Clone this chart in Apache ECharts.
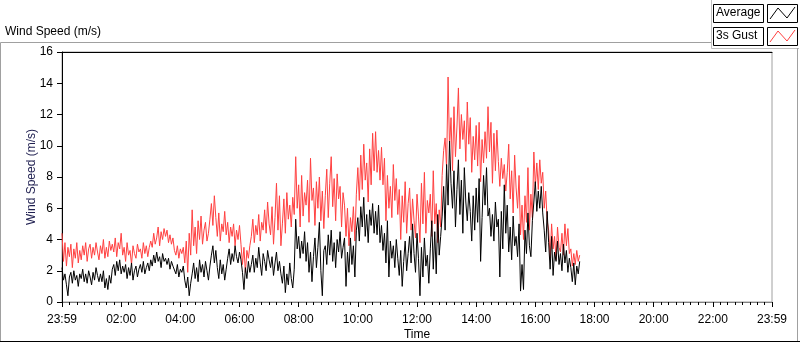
<!DOCTYPE html>
<html>
<head>
<meta charset="utf-8">
<script src="https://cdn.jsdelivr.net/npm/echarts@6/dist/echarts.min.js"></script>
<style>
  html, body { margin: 0; padding: 0; background: #fff; }
  #main { width: 800px; height: 342px; }
</style>
</head>
<body>
<div id="main"></div>
<script>
// one sample every 3 minutes, starting at 23:59
var stepMinutes = 3;

var timeLabels = ['23:59', '02:00', '04:00', '06:00', '08:00', '10:00', '12:00',
  '14:00', '16:00', '18:00', '20:00', '22:00', '23:59'];

var seriesNames = ['Average', '3s Gust'];

var average = [
  2.2, 1.4, 1.8, 1.1, 0.4, 1.6,
  1.9, 1.2, 2.0, 1.4, 1.7, 1.0, 1.8,
  1.5, 2.1, 1.3, 1.8, 1.2, 2.0, 1.6, 1.1, 1.9, 1.4, 2.2, 1.7, 1.3,
  1.8, 1.3, 2.0, 0.9, 1.5, 0.8, 1.7, 1.2, 2.1,
  2.4, 1.7, 2.6, 2.0, 2.7, 1.8, 2.3,
  1.9, 2.4, 1.5, 2.2, 1.7, 2.5, 1.4, 2.0, 2.3, 1.6, 2.1,
  2.4, 1.9, 2.6, 1.8, 2.2, 2.5, 2.0,
  2.7, 2.3, 3.0, 2.5, 3.2, 2.6, 2.9, 2.2, 3.1, 2.6, 2.8,
  2.4, 2.8, 2.1, 2.6, 2.3,
  2.2, 1.8, 2.4, 1.6, 2.1, 1.9, 2.3,
  1.4, 0.9, 1.6, 0.4, 1.2,
  1.8, 2.5, 1.5, 2.2, 1.3, 2.7, 1.9, 2.4, 1.6, 2.6, 2.0, 1.4, 2.3,
  3.0, 3.6, 2.5, 3.3,
  2.2, 1.5, 2.7, 1.8, 2.4, 1.4, 2.1,
  2.8, 3.4, 2.4, 3.1, 2.6, 3.6, 2.9, 2.5, 3.2, 2.7,
  1.9, 0.8, 2.2, 1.5, 2.6, 1.9,
  2.4, 3.0, 1.9, 2.8, 2.2, 3.5, 2.5, 1.7, 3.1, 2.6, 2.0, 3.3, 2.7,
  2.2, 2.9, 1.7, 2.5, 3.2, 2.0, 2.6, 1.8,
  1.2, 2.3, 0.6, 1.8, 1.1, 2.5, 1.5, 0.9, 2.1,
  5.3, 3.4, 4.2, 2.8, 3.9, 3.1, 4.5,
  2.6, 3.8, 1.9, 3.2, 1.3, 2.9, 4.1, 2.2, 3.5,
  5.1, 2.0, 0.4, 3.3,
  3.6, 2.4, 4.3, 3.0, 4.6, 2.6, 3.8, 2.2, 4.0, 3.2, 4.5, 2.8, 3.5, 4.1,
  1.0, 3.2, 1.9, 4.1, 2.4, 3.6, 1.6,
  4.6, 5.4, 3.9, 6.1, 4.8, 6.7, 4.2, 5.6, 3.8, 5.9, 4.9, 6.3, 4.4,
  5.8, 4.3, 6.2,
  3.8, 4.9, 3.3, 4.4,
  2.5, 5.2, 1.6, 3.9, 2.8,
  3.6, 2.2, 4.0, 2.8, 1.7, 3.3, 1.0, 2.6, 3.9, 2.0, 3.1,
  4.2, 2.5, 5.0, 3.1, 1.9, 4.4, 2.8,
  0.4, 3.5, 1.6, 4.1, 2.3, 3.0, 1.2,
  3.4, 5.2, 2.1, 4.5, 1.8, 5.6, 3.0, 4.2,
  5.5, 7.4, 4.6, 8.8, 6.2, 10.3, 7.6,
  6.0, 8.4, 4.8, 7.2, 9.1, 5.6, 7.8, 4.4, 8.6, 6.4, 5.2, 7.0,
  5.8, 3.9, 6.8, 4.6, 7.3, 5.1,
  7.9, 2.6, 5.4,
  8.1, 6.2, 8.6, 5.5,
  6.0, 4.2, 5.6, 3.9, 6.4, 4.8, 5.3,
  1.6, 5.8, 3.4, 7.5, 4.4, 6.2, 3.2,
  4.8, 2.7, 5.5, 3.6, 4.2, 2.9, 5.0,
  0.7, 2.4,
  0.8, 4.6, 3.1, 5.7, 3.6, 2.9, 5.2,
  6.4, 7.7, 5.8, 7.1, 6.0, 7.4, 5.7,
  4.6, 3.2, 5.8,
  3.8, 2.1, 4.2, 1.7, 3.2, 2.6, 3.9, 2.4,
  3.1, 2.0, 3.7, 2.5, 3.3, 1.9, 2.8,
  2.2, 1.3, 2.5, 1.1, 2.3, 1.8, 2.6
];

var gust = [
  4.4, 2.6, 3.8, 2.3, 3.5, 2.9,
  3.7, 2.2, 3.4, 2.8, 3.8, 2.5, 3.3,
  2.7, 3.6, 3.0, 3.8, 2.6, 3.4, 3.7, 2.8, 3.5, 3.0, 3.8, 3.2, 2.7,
  3.6, 3.1, 4.0, 2.8, 3.5, 2.9, 3.9, 3.3, 3.7,
  3.2, 4.1, 2.9, 3.8, 3.4, 4.4, 3.0,
  3.5, 2.6, 3.8, 3.0, 3.3, 2.4, 3.6, 3.1, 2.8, 3.7, 3.2,
  3.4, 2.8, 3.8, 3.1, 3.6, 2.9, 3.5,
  3.9, 3.5, 4.4, 3.7, 4.1, 4.8, 3.6, 4.5, 4.0, 4.7, 4.2,
  4.6, 3.8, 4.3, 3.7, 4.1,
  3.3, 3.0, 3.6, 2.8, 3.4, 3.1, 3.5,
  2.5, 3.9, 1.9, 4.4, 3.0,
  5.9, 3.6, 4.8, 3.1, 5.2, 4.0, 5.5, 3.7, 4.6, 5.1, 3.9, 4.4, 5.3,
  6.3, 4.9, 6.8, 5.4,
  4.2, 5.7, 3.9, 5.0, 4.5, 5.8, 4.3,
  5.1, 3.8, 4.8, 4.2, 5.0, 3.6, 4.6, 4.0, 4.9, 3.7,
  2.4, 3.5, 1.9, 3.3, 2.8, 3.6,
  4.2, 5.3, 3.8, 4.9, 4.3, 5.6, 3.9, 5.1, 4.6, 5.9, 4.4, 6.4, 5.0,
  4.3, 6.1, 3.7, 5.4, 7.6, 4.6, 6.8, 3.6,
  5.0, 6.6, 4.4, 7.0, 5.3, 6.2, 4.8, 6.7, 5.6,
  9.3, 6.0, 7.5, 4.8, 8.1, 5.5, 7.0,
  6.2, 7.8, 5.1, 9.2, 6.5, 7.3, 4.9, 7.7, 6.0,
  8.0, 5.2, 7.1, 4.7,
  6.8, 8.5, 5.4, 7.6, 9.3, 6.1, 7.9, 5.2, 8.2, 6.6, 7.4, 4.8, 7.0, 6.2,
  4.2, 6.0, 3.6, 5.4, 4.5, 6.1, 3.9,
  6.9, 8.6, 6.5, 9.4, 7.2, 10.1, 7.8, 8.9, 6.4, 9.8, 7.5, 10.8, 8.4,
  10.9, 8.3, 9.7,
  7.8, 9.9, 7.5, 9.2,
  5.2, 8.1, 6.0, 7.4, 5.4,
  8.8, 6.5, 7.9, 5.6, 7.2, 4.0, 6.8, 5.1, 7.7, 4.4, 6.3,
  7.3, 4.6, 6.6, 5.2, 4.1, 6.9, 5.5,
  3.8, 7.6, 5.0, 8.3, 4.4, 6.5, 5.7,
  6.9, 4.2, 8.4, 5.0, 6.3, 3.8, 5.9, 4.8,
  8.1, 9.7, 10.5, 8.6, 14.4, 9.9, 11.8,
  8.4, 12.5, 9.3, 11.2, 13.7, 9.8, 12.0, 10.4, 11.6, 9.0, 12.8, 10.1,
  11.8, 8.3, 10.6, 9.1, 11.3, 8.7,
  11.5, 7.7, 10.4,
  8.9, 10.9, 9.2, 12.5,
  9.6, 11.5, 7.6, 10.8, 8.4, 11.0, 9.0,
  7.4, 9.2, 7.9, 8.8, 7.1, 8.3, 10.1,
  6.6, 8.4, 5.7, 9.4, 7.3, 6.0, 8.1,
  4.3, 6.2,
  4.0, 6.8, 5.1, 8.6, 4.6, 6.9, 5.4,
  9.6, 7.4, 8.9, 7.2, 9.1, 7.6, 8.3,
  6.0, 7.1, 5.2,
  4.6, 2.8, 5.0, 3.4, 4.2, 2.7, 4.8, 3.5,
  3.2, 4.4, 3.0, 5.0, 3.6, 4.7, 3.1,
  3.4, 2.3, 3.1, 2.4, 3.3, 2.6, 3.0
];

var toPairs = function (arr) {
  return arr.map(function (v, i) { return [i * stepMinutes, v]; });
};

var font = 'Liberation Sans';
var chart = echarts.init(document.getElementById('main'), null, { renderer: 'canvas' });

var option = {
  animation: false,
  backgroundColor: '#fff',
  textStyle: { fontFamily: font },
  grid: {
    left: 62, right: 28, top: 52, bottom: 40,
    outerBoundsMode: 'none', containLabel: false,
    show: true, borderColor: '#a0a0a0', borderWidth: 1, backgroundColor: '#fff'
  },
  xAxis: [
    {
      type: 'value',
      min: 0,
      max: 1440,
      interval: 120,
      name: 'Time',
      nameLocation: 'middle',
      nameGap: 27,
      nameMoveOverlap: false,
      nameTextStyle: { color: '#000', fontSize: 12, fontFamily: font },
      axisLine: { show: true, lineStyle: { color: '#808080', width: 1 } },
      axisTick: { show: true, length: 5, lineStyle: { color: '#000' } },
      minorTick: { show: true, splitNumber: 8, length: 3, lineStyle: { color: '#000' } },
      splitLine: { show: false },
      axisLabel: {
        color: '#000',
        fontSize: 12,
        margin: 12,
        fontFamily: font,
        formatter: function (v) { return timeLabels[Math.round(v / 120)]; }
      }
    },
    {
      type: 'value',
      position: 'top',
      min: 0,
      max: 1440,
      axisLine: { show: true, lineStyle: { color: '#000', width: 1 } },
      axisTick: { show: false },
      axisLabel: { show: false },
      splitLine: { show: false }
    }
  ],
  yAxis: {
    type: 'value',
    min: 0,
    max: 16,
    interval: 2,
    name: 'Wind Speed (m/s)',
    nameLocation: 'middle',
    nameGap: 24,
    nameMoveOverlap: false,
    nameTextStyle: { color: '#1f1f50', fontSize: 12, fontFamily: font },
    axisLine: { show: true, lineStyle: { color: '#000', width: 1 } },
    axisTick: { show: true, length: 5, lineStyle: { color: '#000' } },
    splitLine: { show: false },
    axisLabel: { color: '#000', fontSize: 12, margin: 9, fontFamily: font }
  },
  series: [
    {
      name: seriesNames[1],
      type: 'line',
      data: toPairs(gust),
      showSymbol: false,
      symbol: 'none',
      lineStyle: { color: '#ff4040', width: 1 },
      itemStyle: { color: '#ff4040' }
    },
    {
      name: seriesNames[0],
      type: 'line',
      data: toPairs(average),
      showSymbol: false,
      symbol: 'none',
      lineStyle: { color: '#000', width: 1 },
      itemStyle: { color: '#000' }
    }
  ],
  graphic: [
    { type: 'text', left: 5, top: 26, style: { text: 'Wind Speed (m/s)', fill: '#000', font: '12px ' + font } },
    { type: 'polyline', shape: { points: [[0.5, 342], [0.5, 42.5], [711.5, 42.5]] }, style: { stroke: '#a0a0a0', lineWidth: 1, fill: null } },
    { type: 'polyline', shape: { points: [[711.5, 0], [711.5, 48.5], [799, 48.5]] }, style: { stroke: '#c0c0c0', lineWidth: 1, fill: null } },
    { type: 'line', shape: { x1: 797.5, y1: 48, x2: 797.5, y2: 342 }, style: { stroke: '#a0a0a0', lineWidth: 1 } },
    { type: 'line', shape: { x1: 0, y1: 341.5, x2: 800, y2: 341.5 }, style: { stroke: '#000', lineWidth: 1 } },
    // legend rows
    { type: 'rect', shape: { x: 713.5, y: 4.5, width: 50, height: 18 }, style: { fill: '#fff', stroke: '#000', lineWidth: 1 } },
    { type: 'text', left: 716, top: 7, style: { text: seriesNames[0], fill: '#000', font: '12px ' + font } },
    { type: 'rect', shape: { x: 767.5, y: 4.5, width: 30, height: 18 }, style: { fill: '#fff', stroke: '#000', lineWidth: 1 } },
    { type: 'polyline', shape: { points: [[770, 19], [778, 8], [787, 18], [795, 7]] }, style: { stroke: '#000', lineWidth: 1, fill: null } },
    { type: 'rect', shape: { x: 713.5, y: 27.5, width: 50, height: 18 }, style: { fill: '#fff', stroke: '#000', lineWidth: 1 } },
    { type: 'text', left: 716, top: 30, style: { text: seriesNames[1], fill: '#000', font: '12px ' + font } },
    { type: 'rect', shape: { x: 767.5, y: 27.5, width: 30, height: 18 }, style: { fill: '#fff', stroke: '#000', lineWidth: 1 } },
    { type: 'polyline', shape: { points: [[770, 42], [778, 31], [787, 41], [795, 30]] }, style: { stroke: '#ff4040', lineWidth: 1, fill: null } }
  ]
};

chart.setOption(option);
</script>
</body>
</html>
